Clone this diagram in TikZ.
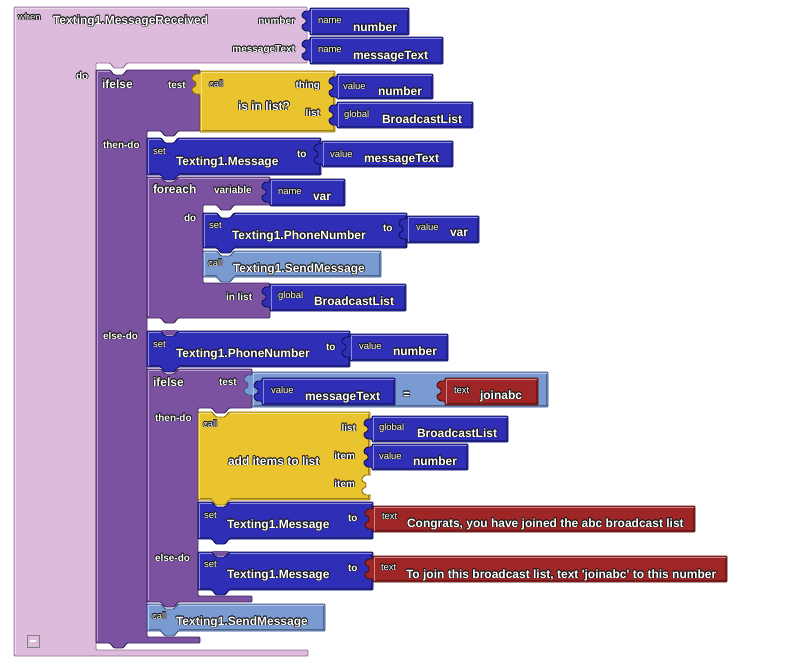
\documentclass[tikz,border=0pt]{standalone}
\usepackage{fontspec}
\setmainfont{Liberation Sans}
\definecolor{pinkF}{RGB}{221,187,221}
\definecolor{pinkE}{RGB}{150,112,150}
\definecolor{purpF}{RGB}{122,82,160}
\definecolor{purpE}{RGB}{62,34,92}
\definecolor{blueF}{RGB}{46,46,182}
\definecolor{blueE}{RGB}{14,14,88}
\definecolor{lblueF}{RGB}{122,154,210}
\definecolor{lblueE}{RGB}{58,80,128}
\definecolor{yellF}{RGB}{233,196,46}
\definecolor{yellE}{RGB}{140,108,10}
\definecolor{redF}{RGB}{158,38,38}
\definecolor{redE}{RGB}{78,10,10}
\definecolor{halo}{RGB}{22,22,22}
\tikzset{
  blk/.style={fill=#1F, draw=#1E, line width=0.9pt, line join=round, rounded corners=1pt},
  hi/.style={draw=#1F!55!white, line width=0.8pt},
  lo/.style={draw=#1F!65!black, line width=0.8pt},
  bg/.style={font=\fontsize{12}{14}\selectfont\bfseries},
  md/.style={font=\fontsize{10}{12}\selectfont\bfseries},
  sm/.style={font=\fontsize{9.5}{11}\selectfont},
  every node/.style={inner sep=0pt, outer sep=0pt}
}
% value (reporter) block with a puzzle plug on its left edge
\newcommand\vblk[5]{%
  \filldraw[blk=#5] (#1,#2) -- (#3,#2) -- (#3,#4) -- (#1,#4) -- (#1,#2+23) -- (#1-5,#2+23)
    -- (#1-8,#2+20) -- (#1-8,#2+17) -- (#1-4,#2+15) -- (#1-4,#2+11) -- (#1-8,#2+9)
    -- (#1-8,#2+6) -- (#1-5,#2+3) -- (#1,#2+3) -- cycle;
  \draw[lo=#5] (#1+1.5,#4-1.2) -- (#3-1.2,#4-1.2) -- (#3-1.2,#2+1.5);
  \draw[hi=#5] (#1+1.2,#4-1.5) -- (#1+1.2,#2+1.2) -- (#3-1.5,#2+1.2);}
% statement block with a notch on top and a tab below
\newcommand\sblk[5]{%
  \filldraw[blk=#5] (#1,#2) -- (#1+14,#2) -- (#1+18,#2+5) -- (#1+27,#2+5) -- (#1+31,#2)
    -- (#3,#2) -- (#3,#4) -- (#1+31,#4) -- (#1+27,#4+5) -- (#1+18,#4+5) -- (#1+14,#4)
    -- (#1,#4) -- cycle;
  \draw[lo=#5] (#1+31.5,#4-1.2) -- (#3-1.2,#4-1.2) -- (#3-1.2,#2+1.5);
  \draw[lo=#5] (#1+1.5,#4-1.2) -- (#1+13.5,#4-1.2);
  \draw[hi=#5] (#1+1.2,#4-1.5) -- (#1+1.2,#2+1.2) -- (#1+13.5,#2+1.2);
  \draw[hi=#5] (#1+31.5,#2+1.2) -- (#3-1.5,#2+1.2);}
% empty value socket cut into a block's right edge
\newcommand\hole[3]{%
  \filldraw[fill=white, draw=#3E, line width=0.9pt, line join=round, rounded corners=1pt]
    (#1+1,#2+3) -- (#1-5,#2+3) -- (#1-8,#2+6) -- (#1-8,#2+9) -- (#1-4,#2+11) -- (#1-4,#2+15)
    -- (#1-8,#2+17) -- (#1-8,#2+20) -- (#1-5,#2+23) -- (#1+1,#2+23);}
% white text with a dark outline
\newcommand\tx[5]{%
  \foreach \hx/\hy in {-.7/0,.7/0,0/-.7,0/.7,-.5/-.5,.5/.5,-.5/.5,.5/-.5}{%
    \node[#4, anchor=#2, text=halo] at ([shift={(\hx,\hy)}]#3) {#5};}
  \node[#4, anchor=#2, text=white] (#1) at (#3) {#5};}
\begin{document}
\begin{tikzpicture}[x=1pt,y=-1pt]
\useasboundingbox (0,0) rectangle (785,667);
\fill[white] (0,0) rectangle (785,667);

% event block
\filldraw[blk=pink] (14,7) -- (307,7) -- (307,63) -- (127,63) -- (123,68) -- (114,68) -- (110,63)
  -- (96,63) -- (96,650) -- (308,650) -- (308,656) -- (14,656) -- cycle;
\draw[hi=pink] (15.2,654) -- (15.2,8.2) -- (306,8.2);
\tx{lwhen}{base west}{18,20}{sm}{when}
\tx{levent}{base west}{53,24}{bg}{Texting1.MessageReceived}
\tx{lpnum}{base east}{295,24}{md}{number}
\tx{lpmsg}{base east}{295,52}{md}{messageText}
\tx{ldo}{base west}{76,79}{md}{do}
\vblk{310}{8}{409}{35}{blue}
\tx{lnm1}{base west}{318,23}{sm}{name}
\tx{lnum1}{base west}{353,31}{bg}{number}
\vblk{310}{37}{443}{64}{blue}
\tx{lnm2}{base west}{318,52}{sm}{name}
\tx{lmsg1}{base west}{353,59}{bg}{messageText}
\node[draw=gray, fill=pinkF, minimum size=12pt] (collapse) at (33,641) {};
\draw[white, line width=1.2pt] (30,641) -- (36,641);

% outer ifelse
\filldraw[blk=purp] (96,70) -- (110,70) -- (114,75) -- (123,75) -- (127,70) -- (200,70) -- (200,131)
  -- (178,131) -- (174,136) -- (165,136) -- (161,131) -- (147,131) -- (147,637) -- (200,637)
  -- (200,643) -- (127,643) -- (123,648) -- (114,648) -- (110,643) -- (96,643) -- cycle;
\draw[hi=purp] (97.2,641) -- (97.2,71.2) -- (109.5,71.2);
\fill[purpF] (161,330) -- (178,330) -- (174,335) -- (165,335) -- cycle;
\tx{lif1}{base west}{102,88}{bg}{ifelse}
\tx{ltest1}{base west}{168,88}{md}{test}
\vblk{200}{71}{335}{132}{yell}
\tx{lcall1}{base west}{209,87}{sm}{call}
\tx{linlist}{base west}{238,110}{bg}{is in list?}
\tx{lthing}{base east}{320,88}{md}{thing}
\tx{llist1}{base east}{320,116}{md}{list}
\vblk{337}{74}{433}{99}{blue}
\tx{lval1}{base west}{343,89}{sm}{value}
\tx{lnum2}{base west}{378,95}{bg}{number}
\vblk{337}{102}{473}{128}{blue}
\tx{lglb1}{base west}{344,117}{sm}{global}
\tx{lbl1}{base west}{382,123}{bg}{BroadcastList}

% then-do branch
\tx{lthen1}{base west}{103,148}{md}{then-do}
\sblk{147}{138}{321}{175}{blue}
\tx{lset1}{base west}{153,154}{sm}{set}
\tx{lmsgset1}{base west}{176,165}{bg}{Texting1.Message}
\tx{lto1}{base west}{297,157}{md}{to}
\vblk{322}{141}{453}{167}{blue}
\tx{lval2}{base west}{330,157}{sm}{value}
\tx{lmsg2}{base west}{364,162}{bg}{messageText}

% foreach loop
\filldraw[blk=purp] (147,177) -- (161,177) -- (165,182) -- (174,182) -- (178,177) -- (270,177)
  -- (270,205) -- (234,205) -- (230,210) -- (221,210) -- (217,205) -- (203,205) -- (203,283)
  -- (270,283) -- (270,318) -- (178,318) -- (174,323) -- (165,323) -- (161,318) -- (147,318) -- cycle;
\draw[hi=purp] (148.2,316) -- (148.2,178.2) -- (160.5,178.2);
\draw[hi=purp] (178.5,178.2) -- (269,178.2);
\tx{lforeach}{base west}{153,193}{bg}{foreach}
\tx{lvariable}{base west}{214,193}{md}{variable}
\vblk{270}{179}{345}{206}{blue}
\tx{lnm3}{base west}{278,194}{sm}{name}
\tx{lvar1}{base west}{313,200}{bg}{var}
\tx{ldo2}{base west}{184,221}{md}{do}
\sblk{203}{213}{407}{248}{blue}
\tx{lset2}{base west}{209,228}{sm}{set}
\tx{lphone1}{base west}{232,239}{bg}{Texting1.PhoneNumber}
\tx{lto2}{base west}{383,231}{md}{to}
\vblk{407}{216}{479}{243}{blue}
\tx{lval3}{base west}{416,230}{sm}{value}
\tx{lvar2}{base west}{450,236}{bg}{var}
\sblk{203}{251}{381}{277}{lblue}
\tx{lcall2}{base west}{208,266}{sm}{call}
\tx{lsend1}{base west}{233,272}{bg}{Texting1.SendMessage}
\tx{linlst}{base west}{226,300}{md}{in list}
\vblk{270}{284}{406}{311}{blue}
\tx{lglb2}{base west}{278,298}{sm}{global}
\tx{lbl2}{base west}{314,305}{bg}{BroadcastList}

% else-do branch
\tx{lelse1}{base west}{103,339}{md}{else-do}
\sblk{147}{331}{350}{367}{blue}
\tx{lset3}{base west}{153,347}{sm}{set}
\tx{lphone2}{base west}{176,357}{bg}{Texting1.PhoneNumber}
\tx{lto3}{base west}{326,350}{md}{to}
\vblk{350}{334}{448}{361}{blue}
\tx{lval4}{base west}{359,349}{sm}{value}
\tx{lnum3}{base west}{393,355}{bg}{number}

% inner ifelse
\filldraw[blk=purp] (147,369) -- (161,369) -- (165,374) -- (174,374) -- (178,369) -- (252,369)
  -- (252,408) -- (229,408) -- (225,413) -- (216,413) -- (212,408) -- (198,408) -- (198,596)
  -- (252,596) -- (252,602) -- (178,602) -- (174,607) -- (165,607) -- (161,602) -- (147,602) -- cycle;
\draw[hi=purp] (148.2,600) -- (148.2,370.2) -- (160.5,370.2);
\draw[hi=purp] (178.5,370.2) -- (251,370.2);
\fill[purpF] (212,551) -- (229,551) -- (225,556) -- (216,556) -- cycle;
\tx{lif2}{base west}{153,386}{bg}{ifelse}
\tx{ltest2}{base west}{219,385}{md}{test}
\vblk{252}{372}{548}{407}{lblue}
\vblk{262}{378}{395}{405}{blue}
\tx{lval5}{base west}{271,393}{sm}{value}
\tx{lmsg3}{base west}{305,400}{bg}{messageText}
\tx{leq}{base west}{403,398}{bg}{=}
\vblk{445}{378}{538}{405}{red}
\tx{ltext1}{base west}{454,393}{sm}{text}
\tx{ljoin}{base west}{480,399}{bg}{joinabc}

\tx{lthen2}{base west}{155,421}{md}{then-do}
\sblk{198}{412}{370}{500}{yell}
\hole{370}{472}{yell}
\tx{lcall3}{base west}{203,427}{sm}{call}
\tx{ladd}{base west}{228,465}{bg}{add items to list}
\tx{llist2}{base east}{356,431}{md}{list}
\tx{litem1}{base east}{355,459}{md}{item}
\tx{litem2}{base east}{355,487}{md}{item}
\vblk{372}{416}{508}{442}{blue}
\tx{lglb3}{base west}{379,430}{sm}{global}
\tx{lbl3}{base west}{417,437}{bg}{BroadcastList}
\vblk{372}{444}{468}{470}{blue}
\tx{lval6}{base west}{379,459}{sm}{value}
\tx{lnum4}{base west}{413,465}{bg}{number}

\sblk{198}{502}{373}{539}{blue}
\tx{lset4}{base west}{204,518}{sm}{set}
\tx{lmsgset2}{base west}{227,528}{bg}{Texting1.Message}
\tx{lto4}{base west}{348,521}{md}{to}
\vblk{373}{506}{695}{532}{red}
\tx{ltext2}{base west}{382,519}{sm}{text}
\tx{lcongrats}{base west}{407,527}{bg}{Congrats, you have joined the abc broadcast list}

\tx{lelse2}{base west}{155,561}{md}{else-do}
\sblk{198}{552}{373}{590}{blue}
\tx{lset5}{base west}{204,567}{sm}{set}
\tx{lmsgset3}{base west}{227,578}{bg}{Texting1.Message}
\tx{lto5}{base west}{348,571}{md}{to}
\vblk{373}{556}{727}{582}{red}
\tx{ltext3}{base west}{381,570}{sm}{text}
\tx{ljoinmsg}{base west}{406,578}{bg}{To join this broadcast list, text \textquotesingle joinabc\textquotesingle{} to this number}

\sblk{147}{604}{325}{631}{lblue}
\tx{lcall4}{base west}{152,619}{sm}{call}
\tx{lsend2}{base west}{176,625}{bg}{Texting1.SendMessage}
\end{tikzpicture}
\end{document}
